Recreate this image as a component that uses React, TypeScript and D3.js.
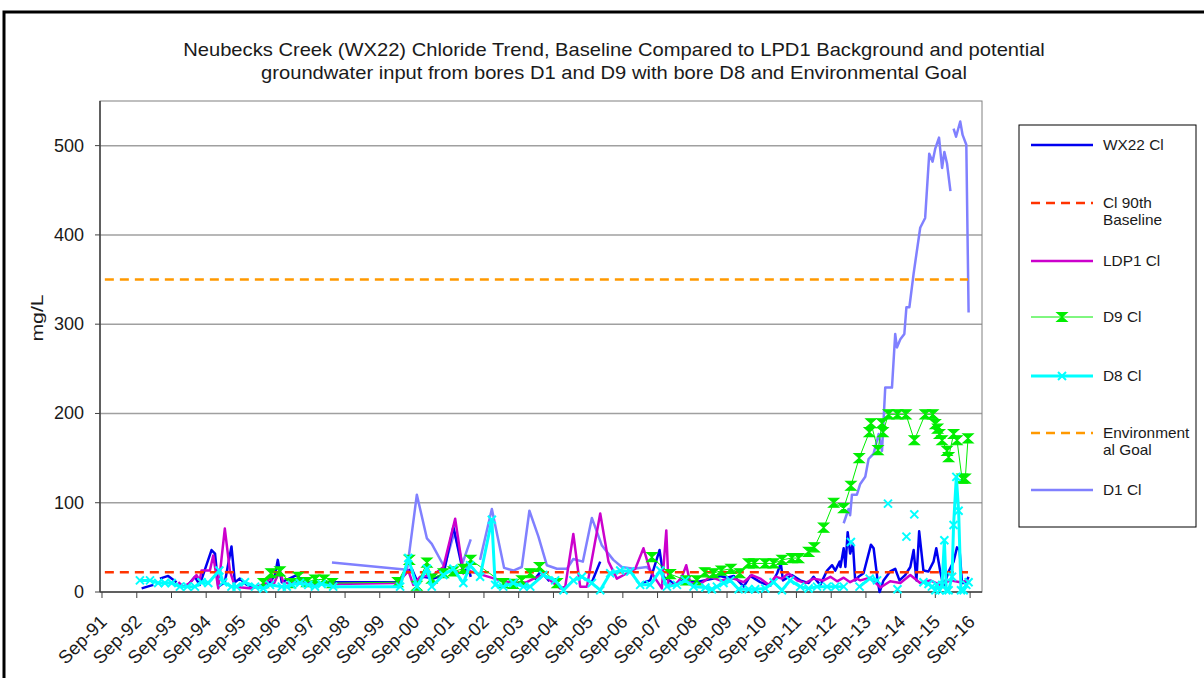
import React from 'react';
import * as d3 from 'd3';

// chart frame
const W = 1204;
const H = 678;
const plot = { left: 100, right: 982, top: 101, bottom: 592 };

const titleLines = [
  'Neubecks Creek (WX22) Chloride Trend, Baseline Compared to LPD1 Background and potential',
  'groundwater input from bores D1 and D9 with bore D8 and Environmental  Goal',
];
const yTicks = [0, 100, 200, 300, 400, 500];
const yMax = 550;

// thresholds
const thresholdDates = ['1991-10-01', '2016-08-10'];
const baseline90th = 22;
const envGoal = 350;

// WX22 Cl
const wx22Dates = [
  '1992-10-22', '1993-02-22', '1993-03-20', '1993-05-02', '1993-07-28', '1993-10-24', '1993-12-01',
  '1994-02-08', '1994-05-05', '1994-06-25', '1994-10-27', '1994-12-03', '1995-01-06', '1995-03-16',
  '1995-05-25', '1995-06-30', '1995-08-21', '1995-11-02', '1996-01-10', '1996-04-10', '1996-07-03',
  '1996-08-25', '1996-09-23', '1996-11-04', '1997-04-10', '1997-06-18', '1997-10-19', '1998-04-06',
  '2000-03-08', '2000-06-27', '2000-08-03', '2000-09-25', '2000-12-04', '2001-03-17', '2001-07-01',
  '2001-10-14', '2002-01-27', '2002-03-20', '2002-04-15', '2002-05-01', '2004-02-15', '2004-04-20',
  '2004-07-20', '2004-09-01', '2005-10-10', '2006-01-06', '2006-02-01', '2007-03-19', '2007-06-15',
  '2007-09-22', '2007-11-03', '2008-03-01', '2008-06-15', '2008-10-02', '2009-04-12', '2009-06-21',
  '2009-09-01', '2009-11-10', '2010-02-23', '2010-05-03', '2010-08-16', '2010-12-01', '2011-02-10',
  '2011-03-21', '2011-04-12', '2011-07-15', '2011-10-11', '2012-01-07', '2012-02-28', '2012-05-09',
  '2012-07-19', '2012-09-10', '2012-10-14', '2012-11-29', '2012-12-07', '2013-01-10', '2013-01-28',
  '2013-02-21', '2013-03-19', '2013-04-17', '2013-05-11', '2013-06-15', '2013-08-07', '2013-10-24',
  '2013-11-21', '2014-01-02', '2014-01-23', '2014-03-05', '2014-05-14', '2014-07-06', '2014-08-20',
  '2014-10-19', '2014-12-12', '2015-01-16', '2015-02-14', '2015-03-15', '2015-04-29', '2015-06-21',
  '2015-08-13', '2015-09-11', '2015-10-23', '2015-11-27', '2016-01-19', '2016-03-11', '2016-04-16',
  '2016-05-13', '2016-06-08', '2016-07-12', '2016-08-16',
];
const wx22Values = [
  4, 8, null, 15, 18, 11, null,
  6, 17, 8, 47, 43, 6, 11,
  51, 11, 15, 8, 6, 5, 11,
  19, 36, 11, 19, 12, 9, 11,
  11, 24, 26, 13, 17, 15, 19,
  73, 21, 28, 17, null, 14, 23,
  12, null, 11, 34, null, 10, 13,
  47, 17, 9, 14, 11, 15, 18,
  16, 18, 6, 18, 11, 7, 21,
  32, 13, 19, 13, 10, 17, 8,
  24, 30, 24, 34, 28, 49, 28,
  67, 43, 54, 13, 17, 21, 53,
  49, 13, 0, 13, 23, 26, 13,
  19, 28, 47, 13, 68, 24, 23,
  34, 49, 23, 6, 23, 34, 50,
  47, 10, 10, 17,
];

// LDP1 Cl
const ldp1Dates = [
  '1993-11-12', '1994-01-03', '1994-03-13', '1994-05-22', '1994-06-25', '1994-07-14', '1994-10-10',
  '1994-11-14', '1995-01-06', '1995-03-16', '1995-05-08', '1995-06-30', '1995-12-23', '1996-05-29',
  '1996-07-03', '1996-08-07', '1996-10-16', '1996-11-21', '1998-04-29', '2000-03-08', '2000-06-27',
  '2000-08-19', '2000-10-29', '2001-03-17', '2001-07-01', '2001-11-02', '2002-01-27', '2002-03-20',
  '2003-02-19', '2003-07-07', '2003-11-26', '2004-02-05', '2004-05-18', '2004-09-02', '2004-11-12',
  '2005-01-03', '2005-03-29', '2005-06-09', '2005-08-19', '2006-01-06', '2006-04-03', '2006-06-30',
  '2006-10-14', '2007-01-10', '2007-04-06', '2007-06-15', '2007-10-16', '2007-12-02', '2007-12-26',
  '2008-03-23', '2008-05-14', '2008-06-29', '2008-08-10', '2008-11-24', '2009-03-08', '2009-06-21',
  '2009-11-10', '2010-02-23', '2010-05-21', '2010-08-16', '2010-11-13', '2011-01-22', '2011-04-02',
  '2011-06-10', '2011-09-08', '2011-12-04', '2012-02-28', '2012-06-13', '2012-08-23', '2012-11-02',
  '2013-01-10', '2013-03-19', '2013-05-29', '2013-07-03', '2013-10-16', '2014-02-01', '2014-05-14',
  '2014-08-29', '2014-12-12', '2015-03-26', '2015-07-09', '2015-10-23', '2016-02-07', '2016-05-20',
  '2016-08-15',
];
const ldp1Values = [
  11, 6, 10, 19, 13, 24, 24,
  41, 4, 71, 24, 6, 4, 10,
  17, 8, 24, 10, 9, 10, 24,
  8, 17, 19, 28, 82, 21, 24,
  13, 10, 11, 15, 19, 10, 4,
  6, 65, 6, 6, 88, 34, 15,
  21, 26, 49, 24, 4, 69, 6,
  10, 17, 30, 10, 9, 17, 13,
  15, 11, 19, 15, 8, 17, 15,
  21, 13, 10, 15, 13, 17, 12,
  16, 11, 15, 13, 16, 5, 12,
  10, 19, 10, 13, 8, 13, 11,
  13,
];

// D9 Cl
const d9Dates = [
  '1996-04-24', '1996-07-13', '1996-10-16', '1997-02-01', '1997-04-26', '1997-07-24', '1997-10-19',
  '1998-01-23', '1998-04-19', '2000-03-08', '2000-07-08', '2000-09-25', '2001-01-09', '2001-03-01',
  '2001-07-01', '2001-10-14', '2002-01-27', '2002-04-15', '2003-03-23', '2003-07-07', '2003-10-04',
  '2004-01-01', '2004-04-07', '2004-10-10', '2005-06-01', '2007-07-03', '2008-01-13', '2008-06-29',
  '2008-10-19', '2009-01-09', '2009-04-12', '2009-07-02', '2009-10-12', '2010-01-12', '2010-04-15',
  '2010-06-14', '2010-10-08', '2011-01-04', '2011-04-02', '2011-07-15', '2011-09-23', '2012-01-07',
  '2012-03-07', '2012-06-13', '2012-09-27', '2013-01-10', '2013-03-27', '2013-06-22', '2013-10-07',
  '2013-10-24', '2014-01-06', '2014-02-17', '2014-02-27', '2014-04-26', '2014-07-30', '2014-10-27',
  '2015-01-23', '2015-05-17', '2015-08-07', '2015-09-01', '2015-09-25', '2015-10-15', '2015-11-11',
  '2016-01-02', '2016-01-19', '2016-03-11', '2016-04-16', '2016-06-08', '2016-07-12', '2016-08-10',
];
const d9Values = [
  10, 21, 23, 10, 17, 11, 14,
  14, 10, 11, 36, 7, 33, 15,
  21, 23, 26, 36, 10, 9, 13,
  21, 28, 10, null, 39, 20, 13,
  13, 22, 21, 24, 26, 21, 32,
  32, 32, 32, 36, 38, 38, 45,
  50, 72, 100, 94, 119, 150, 179,
  189, 159, 189, 179, 199, 199, 199,
  170, 199, 199, 188, 183, 177, 170,
  158, 151, 177, 170, 127, 127, 172,
];

// D8 Cl
const d8Dates = [
  '1992-10-04', '1993-01-18', '1993-04-14', '1993-06-23', '1993-09-03', '1993-11-29', '1994-02-15',
  '1994-05-05', '1994-07-14', '1994-09-23', '1995-01-17', '1995-02-27', '1995-05-25', '1995-07-17',
  '1995-10-14', '1996-01-28', '1996-04-24', '1996-07-03', '1996-11-04', '1996-12-27', '1997-02-17',
  '1997-05-14', '1997-08-10', '1997-10-19', '1997-12-29', '1998-04-29', '2000-04-02', '2000-06-27',
  '2000-09-25', '2001-01-09', '2001-03-01', '2001-07-01', '2001-10-14', '2002-01-27', '2002-04-08',
  '2002-07-22', '2002-11-23', '2002-12-28', '2003-03-23', '2003-07-07', '2003-10-21', '2004-01-01',
  '2004-05-18', '2004-09-19', '2004-12-16', '2005-03-29', '2005-06-27', '2005-10-10', '2006-01-06',
  '2006-04-21', '2006-08-04', '2006-11-18', '2007-03-02', '2007-06-15', '2007-09-29', '2007-12-09',
  '2008-03-23', '2008-06-18', '2008-09-14', '2009-01-16', '2009-03-26', '2009-05-17', '2009-07-26',
  '2009-10-05', '2010-01-01', '2010-04-15', '2010-06-24', '2010-10-08', '2011-01-04', '2011-04-02',
  '2011-06-27', '2011-10-11', '2012-01-07', '2012-04-05', '2012-07-19', '2012-10-14', '2013-01-10',
  '2013-02-15', '2013-03-27', '2013-05-01', '2013-06-26', '2013-10-10', '2013-12-27', '2014-02-01',
  '2014-04-21', '2014-06-01', '2014-07-30', '2014-09-01', '2014-11-01', '2014-12-01', '2015-01-23',
  '2015-03-01', '2015-04-29', '2015-06-21', '2015-07-27', '2015-09-01', '2015-09-18', '2015-10-15',
  '2015-11-11', '2015-12-05', '2015-12-26', '2016-01-19', '2016-02-24', '2016-03-11', '2016-04-09',
  '2016-05-03', '2016-05-28', '2016-06-25', '2016-07-23', '2016-08-16',
];
const d8Values = [
  13, 13, 10, 10, 10, 6, 6,
  6, 11, 10, 24, 11, 6, 6,
  11, 6, 4, 8, 6, 6, 8,
  10, 8, 6, 9, 6, 6, 38,
  6, 26, 6, 19, 26, 10, 30,
  17, 81, 8, 6, 10, 6, 6,
  19, 13, 2, 13, 17, 10, 2,
  21, 24, 23, 8, 8, 24, 6,
  8, 13, 6, 5, 3, 6, 10,
  13, 3, 3, 3, 4, 11, 2,
  13, 6, 4, 6, 6, 6, 6,
  null, 56, null, 6, 15, 13, null,
  99, null, 3, null, 62, null, 87,
  null, 11, 9, 6, 2, 8, 2,
  8, 58, 2, 2, 17, 75, 129,
  91, 2, 2, 8, 11,
];

// D1 Cl
const d1Dates = [
  '1998-04-16', '2000-06-14', '2000-09-25', '2001-01-09', '2001-03-01', '2001-07-11', '2001-10-25',
  '2002-01-18', '2002-04-15', '2002-06-01', '2002-07-22', '2002-11-23', '2003-04-01', '2003-07-07',
  '2003-10-04', '2003-12-23', '2004-03-27', '2004-06-23', '2004-10-07', '2005-01-21', '2005-03-29',
  '2005-07-07', '2005-10-10', '2006-01-24', '2006-05-24', '2006-08-21', '2006-12-22', '2007-05-11',
  '2007-07-19', '2010-01-01', '2013-01-10', '2013-03-02', '2013-03-19', '2013-04-07', '2013-05-29',
  '2013-07-03', '2013-08-25', '2013-09-29', '2013-11-21', '2014-01-13', '2014-02-17', '2014-03-23',
  '2014-06-02', '2014-07-06', '2014-07-24', '2014-08-29', '2014-10-10', '2014-11-01', '2014-12-02',
  '2015-01-16', '2015-03-26', '2015-05-17', '2015-06-29', '2015-08-03', '2015-09-01', '2015-10-10',
  '2015-11-11', '2015-12-05', '2016-01-02', '2016-02-07', '2016-02-25', '2016-03-11', '2016-04-06',
  '2016-05-20', '2016-06-14', '2016-07-23', '2016-08-16',
];
const d1Values = [
  33, 25, 109, 60, 54, 28, 67,
  32, 59, null, 36, 93, 27, 24,
  28, 91, 62, 30, 26, 26, 37,
  34, 83, 52, 36, 28, 26, 28,
  21, null, 77, 93, 86, 109, 109,
  121, 129, 149, 155, 177, 158, 229,
  229, 289, 274, 283, 289, 319, 319,
  357, 408, 419, 491, 482, 497, 509,
  475, 493, 480, 449, null, 519, 510,
  527, 512, 501, 313,
];

const legendItems = [
  { key: 'wx22', label: ['WX22 Cl'] },
  { key: 'base', label: ['Cl 90th', 'Baseline'] },
  { key: 'ldp1', label: ['LDP1 Cl'] },
  { key: 'd9', label: ['D9 Cl'] },
  { key: 'd8', label: ['D8 Cl'] },
  { key: 'env', label: ['Environment', 'al Goal'] },
  { key: 'd1', label: ['D1 Cl'] },
];

const font = 'Arial, "Liberation Sans", sans-serif';
const textColor = '#1a1a1a';

type Row = { date: Date; value: number | null };

const parse = d3.timeParse('%Y-%m-%d');
const toRows = (dates: string[], values: (number | null)[]): Row[] =>
  dates.map((d, i) => ({ date: parse(d) as Date, value: values[i] }));

const styles: Record<string, any> = {
  wx22: { color: '#0000f0', width: 2.5 },
  base: { color: '#ff3300', width: 2.5, dash: '9 6' },
  ldp1: { color: '#cc00cc', width: 2.5 },
  d9: { color: '#00ee00', width: 1, marker: 'hourglass' },
  d8: { color: '#00ffff', width: 3, marker: 'x' },
  env: { color: '#ff9900', width: 2.5, dash: '9 6' },
  d1: { color: '#8080ff', width: 2.5 },
};

const Marker = ({ type, color, x, y }: { type: string; color: string; x: number; y: number }) => {
  if (type === 'hourglass') {
    return <path d={`M${x - 5},${y - 4.5}L${x + 5},${y - 4.5}L${x - 5},${y + 4.5}L${x + 5},${y + 4.5}Z`} fill={color} stroke={color} strokeWidth={1.2} />;
  }
  return <path d={`M${x - 4},${y - 4}L${x + 4},${y + 4}M${x - 4},${y + 4}L${x + 4},${y - 4}`} stroke={color} strokeWidth={2} fill="none" />;
};

export default function App() {
  const x = d3
    .scaleTime()
    .domain([new Date(1991, 7, 11), new Date(2017, 0, 4)])
    .range([plot.left, plot.right]);
  const y = d3.scaleLinear().domain([0, yMax]).range([plot.bottom, plot.top]);

  const xTicks = d3.timeYear.range(new Date(1991, 0, 1), new Date(2017, 0, 1)).map(d => d3.timeMonth.offset(d, 8));
  const fmt = d3.timeFormat('%b-%y');

  const line = d3
    .line<Row>()
    .defined(d => d.value != null)
    .x(d => x(d.date))
    .y(d => y(d.value as number));

  const tDates = thresholdDates.map(d => parse(d) as Date);
  const data: Record<string, Row[]> = {
    wx22: toRows(wx22Dates, wx22Values),
    base: tDates.map(date => ({ date, value: baseline90th })),
    ldp1: toRows(ldp1Dates, ldp1Values),
    d9: toRows(d9Dates, d9Values),
    d8: toRows(d8Dates, d8Values),
    env: tDates.map(date => ({ date, value: envGoal })),
    d1: toRows(d1Dates, d1Values),
  };
  // draw order, bottom to top
  const order = ['d1', 'wx22', 'ldp1', 'base', 'd9', 'd8', 'env'];

  const legendY = [145, 203, 261, 317, 376, 433, 490];

  return (
    <svg width={W} height={H} style={{ position: 'absolute', left: 0, top: 0, background: '#fff' }} fontFamily={font}>
      <rect x={0} y={0} width={W} height={H} fill="#fff" />
      <rect x={4} y={12} width={W + 20} height={H + 20} fill="none" stroke="#000" strokeWidth={3} />

      {/* title, slightly widened like the original export */}
      {titleLines.map((t, i) => (
        <g key={i} transform={`translate(614,${56 + i * 23}) scale(1.12,1)`}>
          <text x={0} y={0} textAnchor="middle" fontSize={18} fill={textColor}>
            {t}
          </text>
        </g>
      ))}

      {/* grid */}
      {yTicks.filter(t => t > 0).map(t => (
        <line key={t} x1={plot.left} x2={plot.right} y1={y(t)} y2={y(t)} stroke="#a0a0a0" strokeWidth={1.5} />
      ))}
      <rect x={plot.left} y={plot.top} width={plot.right - plot.left} height={plot.bottom - plot.top} fill="none" stroke="#808080" strokeWidth={1} />

      {/* y axis */}
      <line x1={plot.left} x2={plot.left} y1={plot.top} y2={plot.bottom} stroke="#404040" strokeWidth={1.5} />
      {yTicks.map(t => (
        <g key={t}>
          <line x1={plot.left - 5} x2={plot.left} y1={y(t)} y2={y(t)} stroke="#404040" />
          <text x={plot.left - 16} y={y(t) + 6} textAnchor="end" fontSize={18} fill={textColor}>
            {t}
          </text>
        </g>
      ))}
      <g transform="translate(43,318) rotate(-90) scale(1.25,1)">
        <text x={0} y={0} textAnchor="middle" fontSize={17} fill={textColor}>
          mg/L
        </text>
      </g>

      {/* x axis */}
      <line x1={plot.left} x2={plot.right} y1={plot.bottom} y2={plot.bottom} stroke="#404040" strokeWidth={1.5} />
      {xTicks.map(d => (
        <g key={+d}>
          <line x1={x(d)} x2={x(d)} y1={plot.bottom} y2={plot.bottom + 6} stroke="#404040" />
          <text transform={`translate(${x(d) + 6},${plot.bottom + 31}) rotate(-45)`} textAnchor="end" fontSize={18.5} fill={textColor}>
            {fmt(d)}
          </text>
        </g>
      ))}

      {/* series */}
      {order.map(k => {
        const s = styles[k];
        return (
          <g key={k}>
            <path d={line(data[k]) || ''} fill="none" stroke={s.color} strokeWidth={s.width} strokeDasharray={s.dash} strokeLinejoin="round" />
            {s.marker &&
              data[k]
                .filter(r => r.value != null)
                .map((r, i) => <Marker key={i} type={s.marker} color={s.color} x={x(r.date)} y={y(r.value as number)} />)}
          </g>
        );
      })}

      {/* legend */}
      <rect x={1019} y={125} width={177} height={402} fill="#fff" stroke="#000" strokeWidth={1} />
      {legendItems.map((item, i) => {
        const s = styles[item.key];
        const ly = legendY[i];
        return (
          <g key={item.key}>
            <line x1={1031} x2={1093} y1={ly} y2={ly} stroke={s.color} strokeWidth={s.width} strokeDasharray={s.dash} />
            {s.marker && <Marker type={s.marker} color={s.color} x={1062} y={ly} />}
            {item.label.map((l, j) => (
              <g key={j} transform={`translate(1103,${ly + 5 + j * 17}) scale(1.1,1)`}>
                <text x={0} y={0} fontSize={14} fill={textColor}>
                  {l}
                </text>
              </g>
            ))}
          </g>
        );
      })}
    </svg>
  );
}
